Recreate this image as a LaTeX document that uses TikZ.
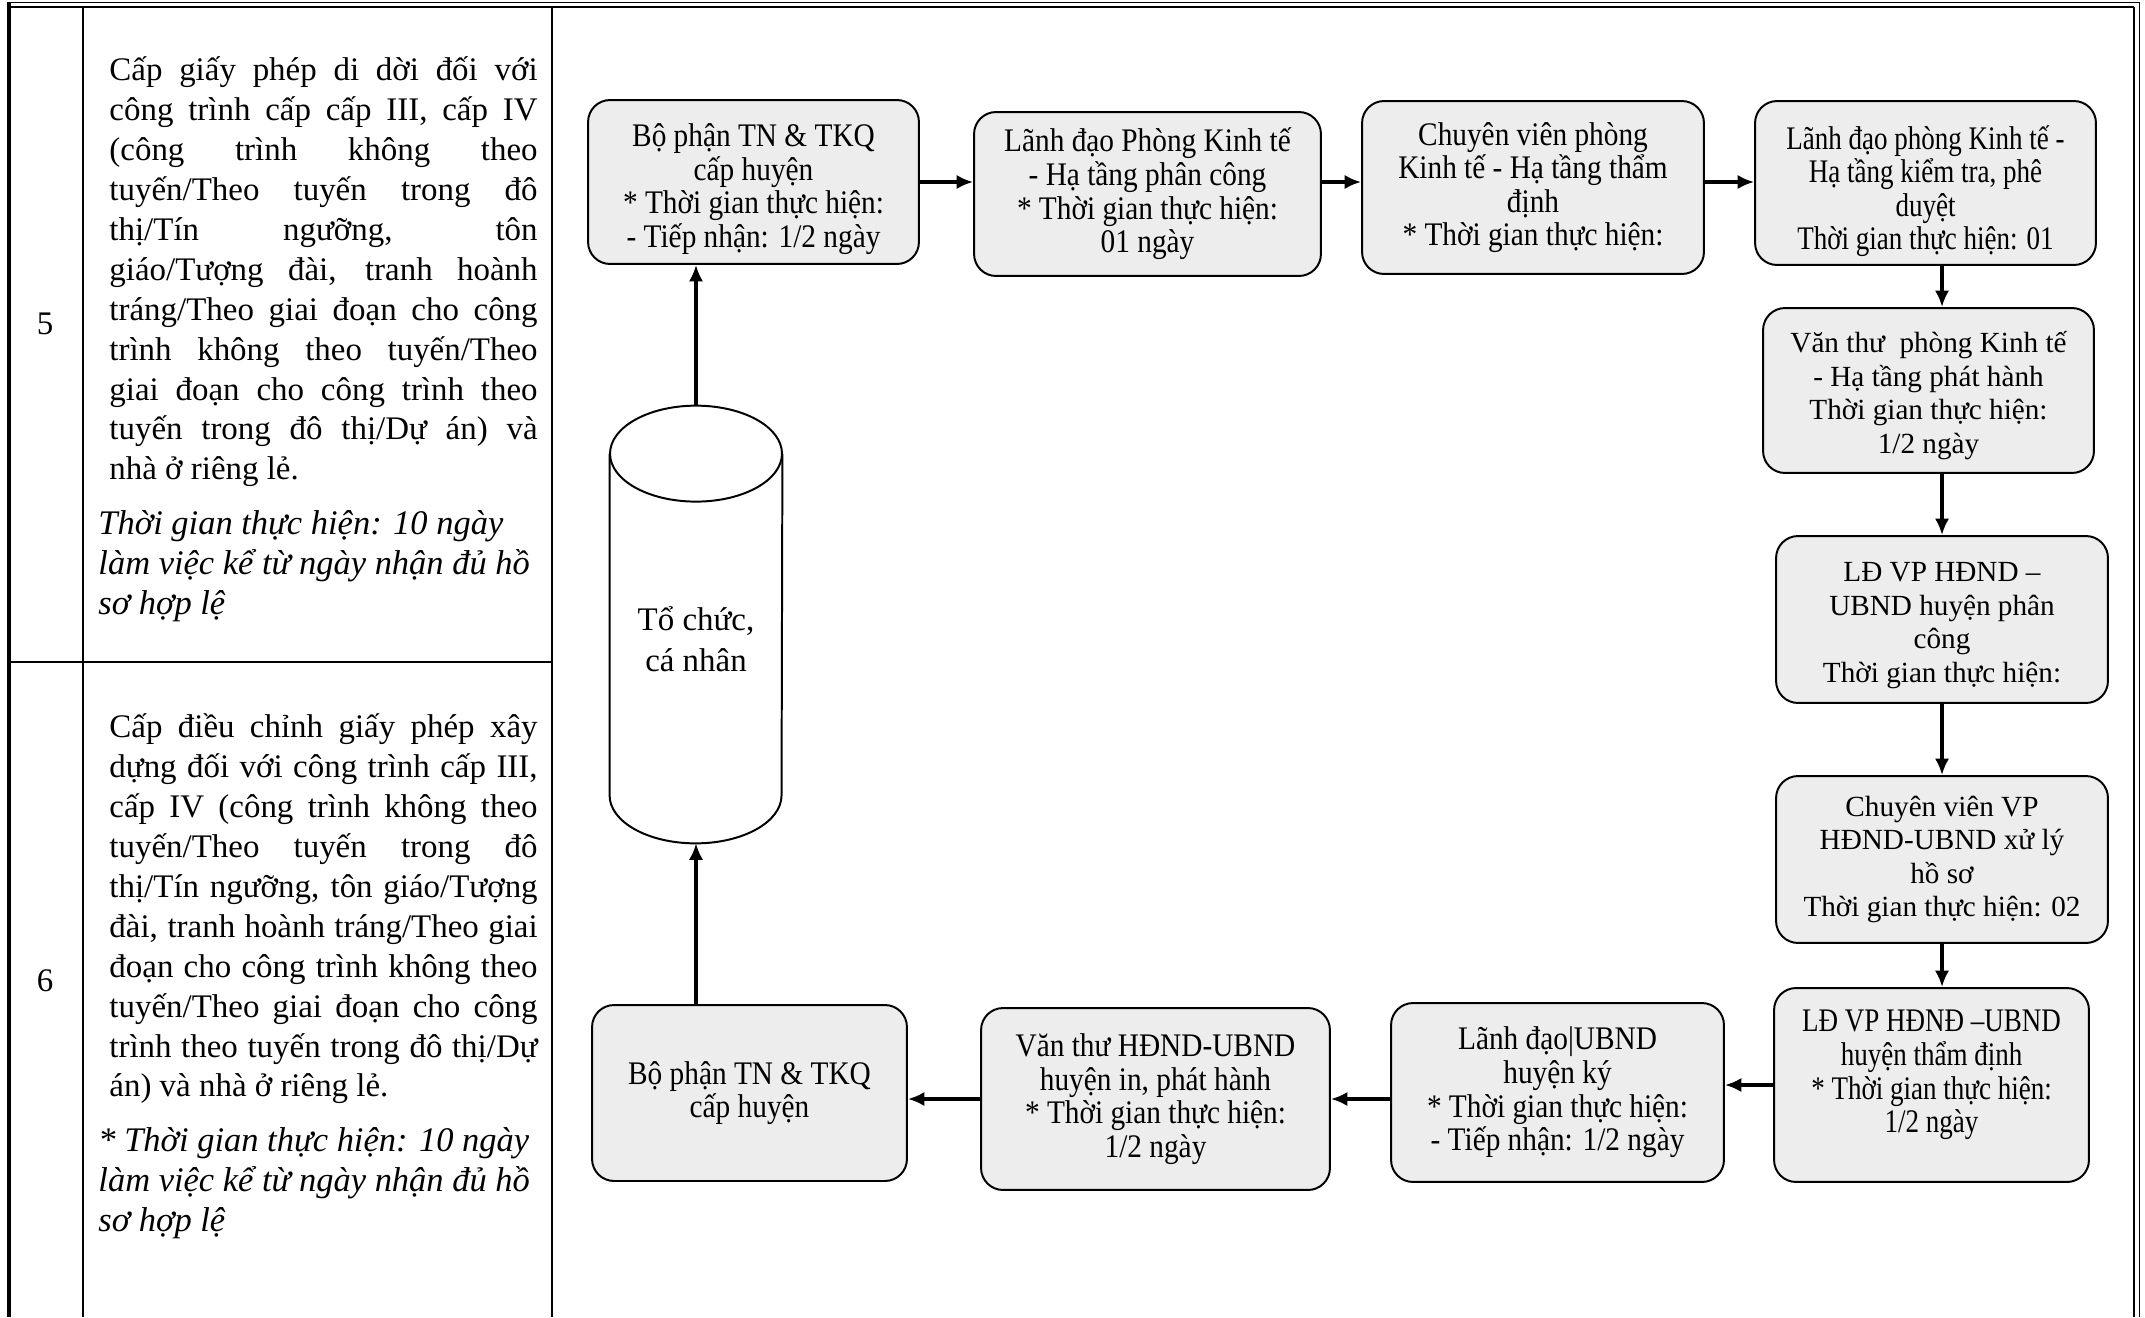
\documentclass[tikz,border=0pt]{standalone}
\usepackage{fontspec}
\setmainfont{Liberation Serif}
\newfontfamily\narrowfont[FakeStretch=0.89]{Liberation Serif}
\newfontfamily\narrowerfont[FakeStretch=0.82]{Liberation Serif}
\usetikzlibrary{shapes, calc, arrows.meta}

\definecolor{boxfill}{RGB}{237,237,237}
\tolerance=10000
\hyphenpenalty=10000

\tikzset{
	stepbox/.style={draw, line width=0.9pt, rounded corners=10pt, fill=boxfill, align=center, inner sep=2pt,
		font=\narrowfont\fontsize{15}{15.3}\selectfont},
	plainbox/.style={stepbox, font=\fontsize{13.3}{15.3}\selectfont},
	tightbox/.style={stepbox, font=\narrowerfont\fontsize{15}{15.3}\selectfont},
	flow/.style={-{Latex[length=7.5pt, width=6.5pt]}, line width=1.4pt},
	tablerule/.style={line width=0.8pt},
	coltext/.style={anchor=north west, inner sep=0pt, text width=195pt, align=justify,
		font=\fontsize{15}{18.2}\selectfont},
	notetext/.style={anchor=north west, inner sep=0pt, align=left,
		font=\itshape\fontsize{15.7}{18.2}\selectfont}
}

\begin{document}
\begin{tikzpicture}[x=0.016cm, y=-0.016cm]
	\useasboundingbox (0,0) rectangle (2145,1317);
	
	% table frame
	\draw[line width=1.8pt] (9,2) -- (9,1317);
	\draw[line width=0.6pt] (9,2.5) -- (2140,2.5);
	\draw[line width=1.2pt] (9,7) -- (2134,7);
	\draw[line width=1.2pt] (2134,7) -- (2134,1317);
	\draw[line width=0.6pt] (2139.5,2.5) -- (2139.5,1317);
	\draw[tablerule] (83,7) -- (83,1317);
	\draw[tablerule] (552,7) -- (552,1317);
	\draw[tablerule] (9,662) -- (552,662);
	
	% first two columns
	\node[font=\fontsize{15}{18}\selectfont] (n5) at (45,324) {5};
	\node[font=\fontsize{15}{18}\selectfont] (n6) at (45,981) {6};
	
	\node[coltext] (p5) at (109,56) {Cấp giấy phép di dời đối với\linebreak
		công trình cấp cấp III, cấp IV\linebreak
		(công trình không theo\linebreak
		tuyến/Theo tuyến trong đô\linebreak
		thị/Tín ngưỡng, tôn\linebreak
		giáo/Tượng đài, tranh hoành\linebreak
		tráng/Theo giai đoạn cho công\linebreak
		trình không theo tuyến/Theo\linebreak
		giai đoạn cho công trình theo\linebreak
		tuyến trong đô thị/Dự án) và\linebreak
		nhà ở riêng lẻ.};
	\node[notetext] (i5) at (98,510) {Thời gian thực hiện: 10 ngày\\làm việc kể từ ngày nhận đủ hồ\\sơ hợp lệ};
	
	\node[coltext] (p6) at (109,713) {Cấp điều chỉnh giấy phép xây\linebreak
		dựng đối với công trình cấp III,\linebreak
		cấp IV (công trình không theo\linebreak
		tuyến/Theo tuyến trong đô\linebreak
		thị/Tín ngưỡng, tôn giáo/Tượng\linebreak
		đài, tranh hoành tráng/Theo giai\linebreak
		đoạn cho công trình không theo\linebreak
		tuyến/Theo giai đoạn cho công\linebreak
		trình theo tuyến trong đô thị/Dự\linebreak
		án) và nhà ở riêng lẻ.};
	\node[notetext] (i6) at (98,1127) {* Thời gian thực hiện: 10 ngày\\làm việc kể từ ngày nhận đủ hồ\\sơ hợp lệ};
	
	% flow chart
	\node[minimum width=2.752cm, minimum height=6.992cm, inner sep=0pt, align=center,
		font=\fontsize{15}{18.5}\selectfont] (cyl) at (696,624.5) {\mbox{}\\[6pt]Tổ chức,\\cá nhân};
	\draw[line width=0.9pt] ([yshift=-0.768cm]cyl.north) ellipse [x radius=1.376cm, y radius=0.768cm];
	\draw[line width=0.9pt] ([yshift=-0.768cm]cyl.north west) -- ([yshift=0.768cm]cyl.south west)
		arc[start angle=180, end angle=360, x radius=1.376cm, y radius=0.768cm] -- ([yshift=-0.768cm]cyl.north east);
	
	\node[stepbox, minimum width=5.296cm, minimum height=2.624cm] (kq1) at (753.5,182) {\mbox{}\\[1.6pt]Bộ phận TN \& TKQ\\cấp huyện\\{}* Thời gian thực hiện:\\- Tiếp nhận: 1/2 ngày};
	\node[stepbox, minimum width=5.552cm, minimum height=2.624cm] (ldkt) at (1147.5,194) {Lãnh đạo Phòng Kinh tế\\- Hạ tầng phân công\\{}* Thời gian thực hiện:\\01 ngày};
	\node[stepbox, minimum width=5.472cm, minimum height=2.768cm] (cvkt) at (1533,187.5) {Chuyên viên phòng\\Kinh tế - Hạ tầng thẩm\\định\\{}* Thời gian thực hiện:};
	\node[tightbox, minimum width=5.456cm, minimum height=2.624cm] (ldduyet) at (1925.5,183) {\mbox{}\\[3pt]Lãnh đạo phòng Kinh tế -\\Hạ tầng kiểm tra, phê\\duyệt\\Thời gian thực hiện: 01};
	\node[plainbox, minimum width=5.296cm, minimum height=2.64cm] (vtkt) at (1928.5,390.5) {\mbox{}\\[-1pt]Văn thư\ \ phòng Kinh tế\\- Hạ tầng phát hành\\Thời gian thực hiện:\\1/2 ngày};
	\node[plainbox, minimum width=5.312cm, minimum height=2.672cm] (ldvp) at (1942,619.5) {\mbox{}\\[-1pt]LĐ VP HĐND –\\UBND huyện phân\\công\\Thời gian thực hiện:};
	\node[plainbox, minimum width=5.312cm, minimum height=2.672cm] (cvvp) at (1942,859.5) {Chuyên viên VP\\HĐND-UBND xử lý\\hồ sơ\\Thời gian thực hiện: 02};
	\node[tightbox, minimum width=5.04cm, minimum height=3.104cm] (ldtd) at (1931.5,1085) {LĐ VP HĐNĐ –UBND\\huyện thẩm định\\{}* Thời gian thực hiện:\\1/2 ngày\\[-3pt]\mbox{}};
	\node[stepbox, minimum width=5.328cm, minimum height=2.864cm] (ubnd) at (1557.5,1092.5) {Lãnh đạo|UBND\\huyện ký\\{}* Thời gian thực hiện:\\- Tiếp nhận: 1/2 ngày};
	\node[stepbox, minimum width=5.584cm, minimum height=2.912cm] (vtvp) at (1155.5,1099) {Văn thư HĐND-UBND\\huyện in, phát hành\\{}* Thời gian thực hiện:\\1/2 ngày};
	\node[stepbox, minimum width=5.04cm, minimum height=2.816cm] (kq2) at (749.5,1093) {Bộ phận TN \& TKQ\\cấp huyện};
	
	\draw[flow] (cyl.north) -- (cyl.north |- kq1.south);
	\draw[flow] (kq1.east) -- (kq1.east -| ldkt.west);
	\draw[flow] (ldkt.east |- kq1.east) -- (kq1.east -| cvkt.west);
	\draw[flow] (cvkt.east |- kq1.east) -- (kq1.east -| ldduyet.west);
	\draw[flow] (ldduyet.south -| ldvp.north) -- (vtkt.north -| ldvp.north);
	\draw[flow] (vtkt.south -| ldvp.north) -- (ldvp.north);
	\draw[flow] (ldvp.south) -- (cvvp.north);
	\draw[flow] (cvvp.south) -- (ldtd.north -| cvvp.south);
	\draw[flow] (ldtd.west) -- (ldtd.west -| ubnd.east);
	\draw[flow] (ubnd.west |- vtvp.east) -- (vtvp.east);
	\draw[flow] (vtvp.west) -- (vtvp.west -| kq2.east);
	\draw[flow] (kq2.north -| cyl.south) -- (cyl.south);
\end{tikzpicture}
\end{document}
